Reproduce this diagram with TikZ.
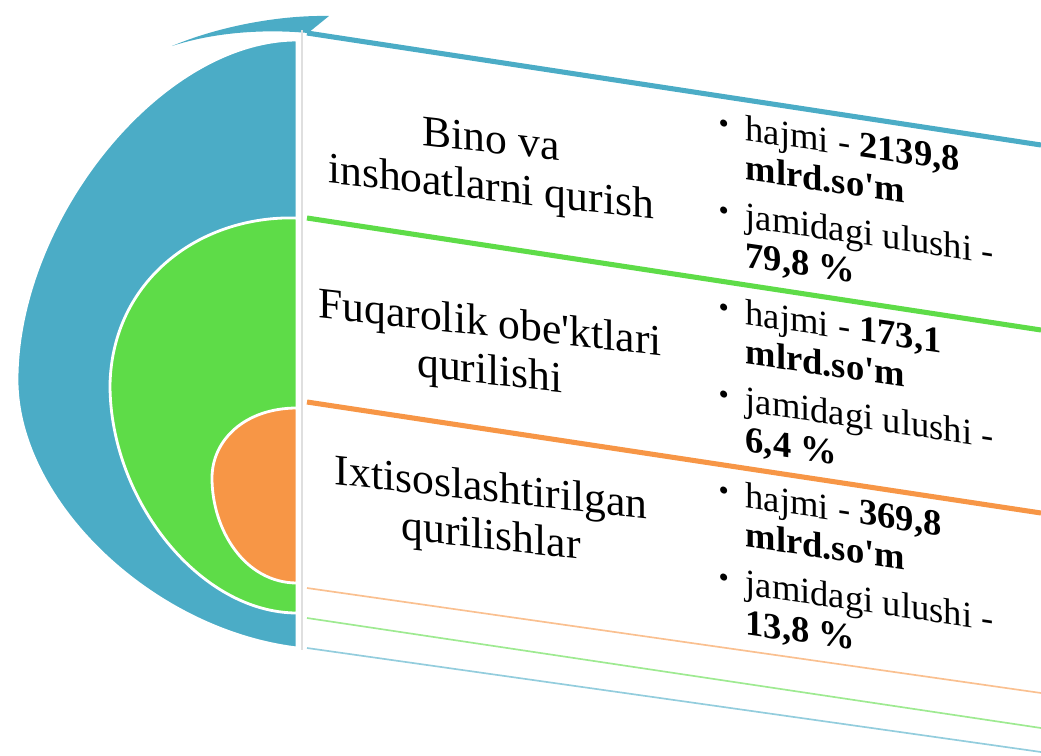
\documentclass[tikz,border=0pt]{standalone}
\usepackage{fontspec}
\setmainfont{Liberation Serif}
\usetikzlibrary{positioning}

\definecolor{blueA}{HTML}{4BACC6}
\definecolor{greenA}{HTML}{5EDC48}
\definecolor{orangeA}{HTML}{F79646}

\newcommand{\infolist}[2]{%
  {\renewcommand{\arraystretch}{1.04}%
  \begin{tabular}{@{}c@{\hspace{12pt}}l@{}}
    \raisebox{3pt}{\scalebox{0.8}{\textbullet}} & hajmi - \textbf{#1}\\
     & \textbf{mlrd.so\textquotesingle m}\\[6pt]
    \raisebox{3pt}{\scalebox{0.8}{\textbullet}} & jamidagi ulushi -\\
     & \textbf{#2 \%}
  \end{tabular}}}

\begin{document}
\begin{tikzpicture}[x=0.025cm, y=-0.025cm,
    half/.style={draw=white, line width=2pt},
    title/.style={align=center, yslant=-0.11, font=\fontsize{31}{34}\selectfont},
    info/.style={yslant=-0.145, inner sep=0pt, font=\fontsize{26}{27}\selectfont},
    band/.style={line width=3.6pt},
    thinband/.style={line width=1.2pt}]

	\useasboundingbox (0,0) rectangle (1041,756);

	% nested half discs
	\filldraw[half, fill=blueA] (297,40) .. controls (160,40) and (17,220) .. (17,380)
		.. controls (17,500) and (150,630) .. (297,648) -- cycle;
	\fill[blueA] (172,46) .. controls (220,26) and (280,15) .. (329,16)
		-- (308,33) .. controls (265,29) and (215,32) .. (172,46) -- cycle;
	\filldraw[half, fill=greenA] (297,218) .. controls (200,215) and (112,280) .. (110,385)
		.. controls (110,500) and (200,613) .. (297,613) -- cycle;
	\filldraw[half, fill=orangeA] (297,408) .. controls (245,408) and (212,440) .. (212,478)
		.. controls (212,530) and (245,583) .. (297,583) -- cycle;

	% panel
	\draw[gray!25, line width=1.5pt] (302,30) -- (302,650);
	\draw[band, blueA] (307,33) -- (1041,145);
	\draw[band, greenA] (307,218) -- (1041,330);
	\draw[band, orangeA] (307,402) -- (1041,513);
	\draw[thinband, orangeA!60] (307,588) -- (1041,693);
	\draw[thinband, greenA!60] (307,618) -- (1041,728);
	\draw[thinband, blueA!60] (307,648) -- (1041,752);

	% titles
	\node [title] (bino)   at (491,167) {Bino va\\inshoatlarni qurish};
	\node [title] (fuqaro) at (490,350) {Fuqarolik obe\textquotesingle ktlari\\qurilishi};
	\node [title] (ixtis)  at (491,515) {Ixtisoslashtirilgan\\qurilishlar};

	% figures
	\node [info] (info1) at (856,212) {\infolist{2139,8}{79,8}};
	\node [info] (info2) at (856,396) {\infolist{173,1}{6,4}};
	\node [info] (info3) at (856,579) {\infolist{369,8}{13,8}};
\end{tikzpicture}
\end{document}
